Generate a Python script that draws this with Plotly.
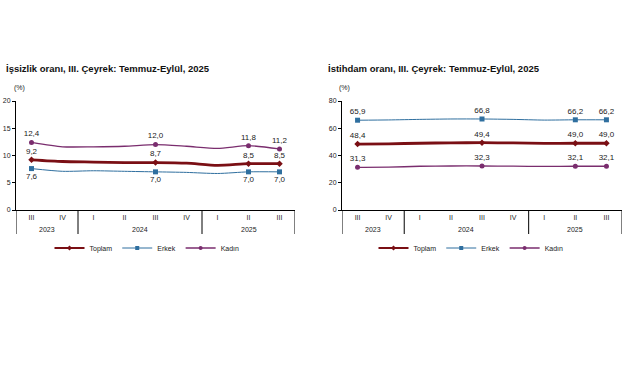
import plotly.graph_objects as go

W, H = 641, 380

years = ["2023", "2023", "2024", "2024", "2024", "2024", "2025", "2025", "2025"]
quarters = ["III", "IV", "I", "II", "III", "IV", "I", "II", "III"]

# İşsizlik oranı
u_toplam = [9.2, 8.9, 8.8, 8.7, 8.7, 8.6, 8.2, 8.5, 8.5]
u_erkek = [7.6, 7.1, 7.2, 7.1, 7.0, 6.9, 6.7, 7.0, 7.0]
u_kadin = [12.4, 11.6, 11.6, 11.7, 12.0, 11.7, 11.3, 11.8, 11.2]

# İstihdam oranı
e_toplam = [48.4, 48.6, 49.0, 49.3, 49.4, 49.2, 48.9, 49.0, 49.0]
e_erkek = [65.9, 66.1, 66.5, 66.8, 66.8, 66.5, 66.0, 66.2, 66.2]
e_kadin = [31.3, 31.4, 32.1, 32.3, 32.3, 32.2, 32.0, 32.1, 32.1]

shown = [True, False, False, False, True, False, False, True, True]

names = ["Toplam", "Erkek", "Kadın"]
colors = ["#7a0f14", "#2f6f9f", "#7a2d6e"]
symbols = ["diamond", "square", "circle"]
widths = [2.8, 1.0, 1.3]

FONT = "Liberation Sans, Arial, sans-serif"
idx = list(range(len(quarters)))


def px_x(v):
    return v / W


def px_y(v):
    return 1 - v / H


def fmt(v):
    return f"{v:.1f}".replace(".", ",")


fig = go.Figure()


def add_series(vals, i, xa, ya, legend, pos):
    fig.add_trace(go.Scatter(
        x=idx, y=vals, mode="lines", showlegend=False,
        line=dict(color=colors[i], width=widths[i], shape="spline", smoothing=0.7),
        xaxis=xa, yaxis=ya, hoverinfo="skip",
    ))
    sx = [x for x, s in zip(idx, shown) if s]
    sy = [v for v, s in zip(vals, shown) if s]
    fig.add_trace(go.Scatter(
        x=sx, y=sy, mode="markers+text", showlegend=False,
        marker=dict(symbol=symbols[i], color=colors[i], size=5, line=dict(width=0)),
        text=[fmt(v) for v in sy], textposition=pos,
        textfont=dict(size=8, color="#222", family=FONT),
        xaxis=xa, yaxis=ya, cliponaxis=False,
    ))
    # legend entry
    fig.add_trace(go.Scatter(
        x=[None], y=[None], mode="lines+markers", name=names[i],
        line=dict(color=colors[i], width=min(widths[i], 2.2)),
        marker=dict(symbol=symbols[i], color=colors[i], size=4),
        xaxis=xa, yaxis=ya, legend=legend,
    ))


left_pos = ["top center", "bottom center", "top center"]
for i, vals in enumerate([u_toplam, u_erkek, u_kadin]):
    add_series(vals, i, "x", "y", "legend", left_pos[i])
for i, vals in enumerate([e_toplam, e_erkek, e_kadin]):
    add_series(vals, i, "x2", "y2", "legend2", "top center")

y_bot, y_top = 210, 101
ydom = [px_y(y_bot), px_y(y_top)]
axis_common = dict(
    showgrid=False, zeroline=False, showline=True, linecolor="#000", linewidth=1,
    tickfont=dict(size=7, family=FONT, color="#222"), automargin=False,
)
xcommon = dict(axis_common, tickmode="array", tickvals=idx, ticktext=quarters,
               ticks="", range=[-0.5, len(idx) - 0.5], ticklabelstandoff=1)
ycommon = dict(axis_common, ticks="outside", ticklen=3, tickcolor="#000")

# year groups
groups = []
for k, y in enumerate(years):
    if not groups or groups[-1][0] != y:
        groups.append([y, k, k])
    else:
        groups[-1][2] = k

shapes = []
annotations = []
for xa in ["x", "x2"]:
    bounds = [groups[0][1] - 0.5] + [g[2] + 0.5 for g in groups]
    for b in bounds:
        shapes.append(dict(type="line", xref=xa, yref="paper", x0=b, x1=b,
                           y0=px_y(y_bot), y1=px_y(234), line=dict(color="#000", width=1)))
    for g in groups:
        annotations.append(dict(text=g[0], xref=xa, yref="paper", x=(g[1] + g[2]) / 2,
                                y=px_y(229), showarrow=False, yanchor="middle",
                                font=dict(size=7, family=FONT, color="#222")))

annotations += [
    dict(text="<b>İşsizlik oranı, III. Çeyrek: Temmuz-Eylül, 2025</b>", x=px_x(4), y=px_y(68),
         xref="paper", yref="paper", xanchor="left", yanchor="middle", showarrow=False,
         font=dict(size=9.5, family=FONT, color="#111")),
    dict(text="<b>İstihdam oranı, III. Çeyrek: Temmuz-Eylül, 2025</b>", x=px_x(326), y=px_y(68),
         xref="paper", yref="paper", xanchor="left", yanchor="middle", showarrow=False,
         font=dict(size=9.5, family=FONT, color="#111")),
    dict(text="(%)", x=px_x(12), y=px_y(88), xref="paper", yref="paper", xanchor="left",
         yanchor="middle", showarrow=False, font=dict(size=7, family=FONT, color="#222")),
    dict(text="(%)", x=px_x(337), y=px_y(88), xref="paper", yref="paper", xanchor="left",
         yanchor="middle", showarrow=False, font=dict(size=7, family=FONT, color="#222")),
]

leg = dict(orientation="h", xanchor="center", yanchor="middle", y=px_y(248),
           font=dict(size=7, family=FONT, color="#222"), itemwidth=30,
           bgcolor="rgba(0,0,0,0)", tracegroupgap=0)

fig.update_layout(
    width=W, height=H, margin=dict(l=0, r=0, t=0, b=0, autoexpand=False),
    paper_bgcolor="white", plot_bgcolor="white",
    font=dict(family=FONT, size=8, color="#222"),
    xaxis=dict(xcommon, domain=[px_x(16), px_x(295)], anchor="y"),
    yaxis=dict(ycommon, domain=ydom, range=[0, 20], dtick=5, anchor="x"),
    xaxis2=dict(xcommon, domain=[px_x(342), px_x(622)], anchor="y2"),
    yaxis2=dict(ycommon, domain=ydom, range=[0, 80], dtick=20, anchor="x2"),
    legend=dict(leg, x=px_x(147)),
    legend2=dict(leg, x=px_x(471)),
    shapes=shapes,
    annotations=annotations,
)

fig.write_html("out.html", config={"displayModeBar": False},
               post_script="document.body.style.margin='0';")
